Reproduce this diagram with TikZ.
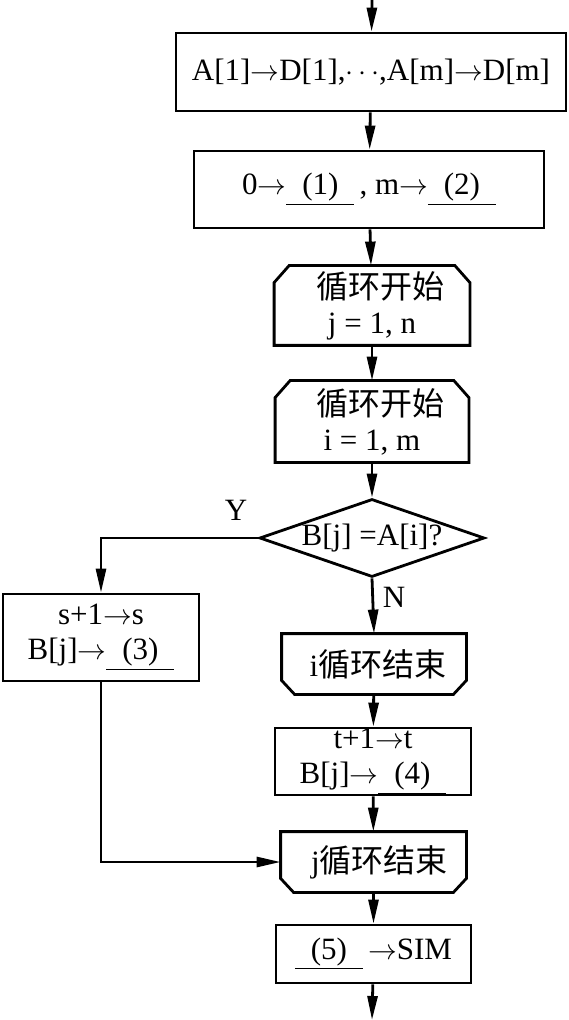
\documentclass[tikz,border=0pt]{standalone}
\usepackage{fontspec}
\setmainfont{Liberation Serif}
\newfontfamily\cjk{Noto Sans CJK SC}
\usetikzlibrary{arrows.meta,shapes.geometric}
\newcommand{\blank}[1]{\underline{\makebox[34pt]{#1}}}
\newcommand{\zh}[1]{{\cjk\fontsize{16}{17}\selectfont #1}}
\newcommand{\drawloopstart}[1]{\draw (#1.south west) -- ([yshift=-8.5pt]#1.north west) -- ([xshift=7.5pt]#1.north west) -- ([xshift=-7.5pt]#1.north east) -- ([yshift=-8.5pt]#1.north east) -- (#1.south east) -- cycle;}
\newcommand{\drawloopend}[1]{\draw (#1.north west) -- ([yshift=7pt]#1.south west) -- ([xshift=6.5pt]#1.south west) -- ([xshift=-6.5pt]#1.south east) -- ([yshift=7pt]#1.south east) -- (#1.north east) -- cycle;}
\begin{document}
\begin{tikzpicture}[x=0.5pt,y=-0.5pt,>={Triangle[length=12pt,width=5pt]},
    line width=1.4pt,font=\fontsize{15.5}{17.5}\selectfont,
    box/.style={draw,rectangle,inner sep=0pt,align=center},
    cutbox/.style={rectangle,inner sep=0pt,align=center},
    test/.style={draw,diamond,inner sep=0pt,aspect=2.9}]
    \useasboundingbox (0,0) rectangle (568,1020);
    %\draw[ultra thin,gray!20] (0,0) grid[step=50] (568,1020);
    \coordinate (top) at (372,0);
    \coordinate (bot) at (372,1020);
    \node[box,minimum width=195pt,minimum height=39pt] (copy) at (371,72)
        {A[1]$\rightarrow$D[1],$\cdots$,A[m]$\rightarrow$D[m]};
    \node[box,minimum width=175pt,minimum height=38.5pt] (init) at (369,189.5)
        {0$\rightarrow$\blank{(1)}\,, m$\rightarrow$\blank{(2)}};
    \node[cutbox,minimum width=96.5pt,minimum height=38.5pt] (loopj) at (372,305.5)
        {\hspace{8pt}\zh{循环开始}\\ j = 1, n};
    \node[cutbox,minimum width=95.5pt,minimum height=39.5pt] (loopi) at (372,421.5)
        {\hspace{8pt}\zh{循环开始}\\ i = 1, m};
    \node[test,minimum width=112.5pt,minimum height=39pt] (same) at (372,538)
        {B[j] =A[i]?};
    \node[box,minimum width=98pt,minimum height=43.5pt] (hit) at (101,637.5)
        {s+1$\rightarrow$s\\ B[j]$\rightarrow$\blank{(3)}};
    \node[cutbox,minimum width=91pt,minimum height=29pt] (endi) at (374,664)
        {\hspace{4pt}i\zh{循环结束}};
    \node[box,minimum width=98pt,minimum height=33.5pt] (miss) at (373,761.5)
        {t+1$\rightarrow$t\\ B[j]$\rightarrow$\blank{(4)}};
    \node[cutbox,minimum width=91.5pt,minimum height=29pt] (endj) at (373.5,862)
        {\hspace{6pt}j\zh{循环结束}};
    \node[box,minimum width=97.5pt,minimum height=29pt] (sum) at (373.5,954)
        {\blank{(5)}\,$\rightarrow$SIM};
    \drawloopstart{loopj}
    \drawloopstart{loopi}
    \drawloopend{endi}
    \drawloopend{endj}
    \node (ylab) at (236,510) {Y};
    \node (nlab) at (394,597) {N};
    \draw [->] (top) -- (copy);
    \draw [->] (copy) -- (init);
    \draw [->] (init) -- (loopj);
    \draw [->] (loopj) -- (loopi);
    \draw [->] (loopi) -- (same);
    \draw [->] (same.west) -| (hit.north);
    \draw [->] (same.south) -- (endi.north);
    \draw [->] (endi) -- (miss);
    \draw [->] (miss) -- (endj);
    \draw [->] (hit.south) |- (endj.west);
    \draw [->] (endj) -- (sum);
    \draw [->] (sum) -- (bot);
\end{tikzpicture}
\end{document}
